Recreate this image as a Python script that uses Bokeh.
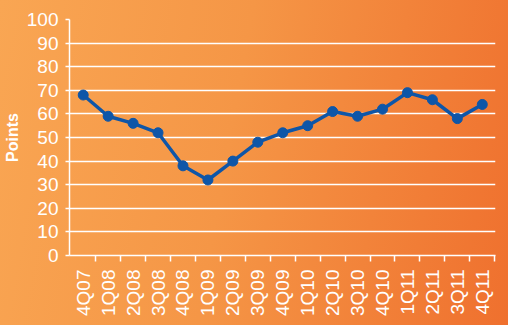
import math
from bokeh.plotting import figure
from bokeh.models import FixedTicker, Range1d
from bokeh.embed import file_html
from bokeh.resources import INLINE

quarters = ["4Q07", "1Q08", "2Q08", "3Q08", "4Q08", "1Q09", "2Q09", "3Q09", "4Q09",
            "1Q10", "2Q10", "3Q10", "4Q10", "1Q11", "2Q11", "3Q11", "4Q11"]
points = [68, 59, 56, 52, 38, 32, 40, 48, 52, 55, 61, 59, 62, 69, 66, 58, 64]
y_ticks = [0, 10, 20, 30, 40, 50, 60, 70, 80, 90, 100]

xs = [i + 0.5 for i in range(len(quarters))]

p = figure(width=508, height=325, output_backend="svg", toolbar_location=None,
           x_range=Range1d(-0.05, len(quarters) + 0.03), y_range=Range1d(0, 100),
           min_border_left=60, min_border_right=13, min_border_top=19, min_border_bottom=70)
p.styles = {"background": "linear-gradient(100deg, #F9A653 0%, #F59646 45%, #EF702E 100%)"}
p.border_fill_color = None
p.background_fill_color = None
p.outline_line_color = None

FONT = "Liberation Sans"
WHITE = "#FFFFFF"

# x axis
xa = p.xaxis[0]
xa.ticker = FixedTicker(ticks=xs, minor_ticks=list(range(1, len(quarters) + 1)))
xa.major_label_overrides = {x: q for x, q in zip(xs, quarters)}
xa.major_label_orientation = math.pi / 2
xa.major_tick_line_color = None
xa.minor_tick_line_color = WHITE
xa.minor_tick_line_width = 1.5
xa.minor_tick_out = 6
xa.minor_tick_in = 0
xa.axis_line_color = WHITE
xa.axis_line_width = 1.5
xa.major_label_text_color = WHITE
xa.major_label_text_font = FONT
xa.major_label_text_font_size = "19px"
xa.major_label_standoff = 8

# y axis
ya = p.yaxis[0]
ya.ticker = FixedTicker(ticks=y_ticks)
ya.minor_tick_line_color = None
ya.major_tick_line_color = WHITE
ya.major_tick_line_width = 1.5
ya.major_tick_out = 4
ya.major_tick_in = 0
ya.axis_line_color = WHITE
ya.axis_line_width = 1.5
ya.major_label_text_color = WHITE
ya.major_label_text_font = FONT
ya.major_label_text_font_size = "19px"
ya.major_label_standoff = 7
ya.axis_label = "Points"
ya.axis_label_text_color = WHITE
ya.axis_label_text_font = FONT
ya.axis_label_text_font_style = "bold"
ya.axis_label_text_font_size = "16px"
ya.axis_label_standoff = 3

p.xgrid.grid_line_color = None
p.ygrid.grid_line_color = WHITE
p.ygrid.grid_line_width = 1.3
p.ygrid.ticker = FixedTicker(ticks=y_ticks)

p.line(xs, points, line_color="#0E56A8", line_width=3.5)
p.scatter(xs, points, size=10, fill_color="#0E56A8", line_color="#0E56A8")

open("out.html", "w").write(file_html(p, INLINE))
